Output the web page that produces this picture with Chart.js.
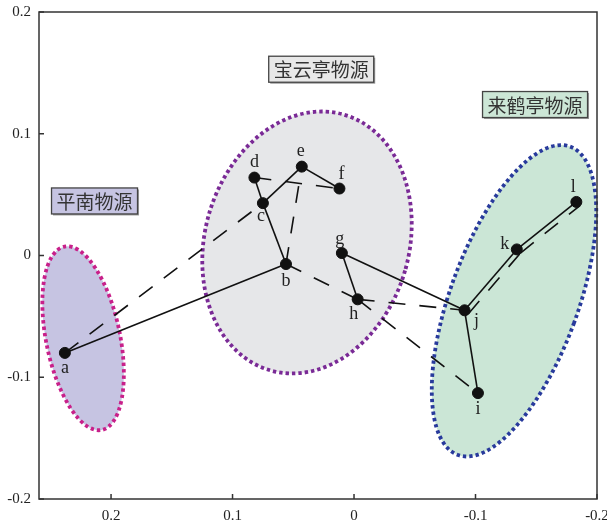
<!DOCTYPE html>
<html>
<head>
<meta charset="utf-8">
<script src="https://cdn.jsdelivr.net/npm/chart.js@4.4.0/dist/chart.umd.min.js"></script>
<style>
  html, body { margin: 0; padding: 0; background: #fff; }
</style>
</head>
<body>
<canvas id="myChart" width="607" height="527"></canvas>
<script>
// puntos de muestra
const nombres = ['a', 'b', 'c', 'd', 'e', 'f', 'g', 'h', 'i', 'j', 'k', 'l'];
const valoresX = [0.238, 0.056, 0.075, 0.082, 0.043, 0.012, 0.010, -0.003, -0.102, -0.091, -0.134, -0.183];
const valoresY = [-0.080, -0.007, 0.043, 0.064, 0.073, 0.055, 0.002, -0.036, -0.113, -0.045, 0.005, 0.044];

// uniones (linea continua) entre puntos
const unionesSolidas = [['a', 'b'], ['b', 'c'], ['c', 'd'], ['c', 'e'], ['e', 'f'], ['g', 'h'], ['g', 'j'], ['j', 'i'], ['j', 'k'], ['k', 'l']];
// uniones discontinuas: [x1, x2] y [y1, y2]
const discontX = [[0.238, 0.075], [0.056, 0.043], [0.082, 0.012], [0.056, -0.003], [-0.003, -0.091], [-0.003, -0.102], [-0.094, -0.137], [-0.137, -0.186]];
const discontY = [[-0.080, 0.043], [-0.007, 0.073], [0.064, 0.055], [-0.007, -0.036], [-0.036, -0.045], [-0.036, -0.113], [-0.048, 0.002], [0.002, 0.041]];

const ticksX = [0.2, 0.1, 0, -0.1, -0.2];
const ticksY = [0.2, 0.1, 0, -0.1, -0.2];
const grupos = ['平南物源', '宝云亭物源', '来鹤亭物源'];

// elipses de cada grupo (unidades de datos)
const elipses = [
  { cx: 0.223, cy: -0.068, rMayor: 0.0769, rMenor: 0.0304, giro: -11.5, fondo: '#c6c4e2', borde: '#c8208a' },
  { cx: 0.0387, cy: 0.0107, rMayor: 0.1094, rMenor: 0.0839, giro: 16, fondo: '#e6e7e9', borde: '#7a2a96' },
  { cx: -0.1317, cy: -0.0372, rMayor: 0.1349, rMenor: 0.0526, giro: 20, fondo: '#cbe6d6', borde: '#283a9c' }
];
const cajas = [
  { x: 0.2136, y: 0.0448, fondo: '#c6c4e2' },
  { x: 0.027, y: 0.153, fondo: '#e8e8e8' },
  { x: -0.149, y: 0.124, fondo: '#cce6d6' }
];
const posEtiquetas = {
  a: [0, 15], b: [0, 17], c: [-2, 13], d: [0, -15], e: [-1, -15], f: [2, -14],
  g: [-2, -14], h: [-4, 15], i: [0, 16], j: [12, 11], k: [-12, -5], l: [-3, -15]
};

const puntos = nombres.map((n, i) => ({ x: valoresX[i], y: valoresY[i] }));

const datasets = [{
  label: 'puntos',
  data: puntos,
  backgroundColor: '#111',
  borderColor: '#111',
  pointRadius: 5.5,
  showLine: false,
  order: 0
}];

unionesSolidas.forEach(u => {
  const p1 = nombres.indexOf(u[0]);
  const p2 = nombres.indexOf(u[1]);
  datasets.push({
    data: [puntos[p1], puntos[p2]],
    showLine: true,
    borderColor: '#111',
    borderWidth: 1.6,
    pointRadius: 0,
    order: 1
  });
});

discontX.forEach((xs, i) => {
  datasets.push({
    data: [{ x: xs[0], y: discontY[i][0] }, { x: xs[1], y: discontY[i][1] }],
    showLine: true,
    borderColor: '#111',
    borderWidth: 1.6,
    borderDash: [17, 14],
    pointRadius: 0,
    order: 2
  });
});

const fondoPlugin = {
  id: 'fondo',
  beforeDatasetsDraw(chart) {
    const ctx = chart.ctx;
    const sx = chart.scales.x, sy = chart.scales.y;
    const ux = Math.abs(sx.getPixelForValue(1) - sx.getPixelForValue(0));
    const uy = Math.abs(sy.getPixelForValue(1) - sy.getPixelForValue(0));
    const u = (ux + uy) / 2;
    elipses.forEach(e => {
      ctx.save();
      ctx.beginPath();
      ctx.ellipse(sx.getPixelForValue(e.cx), sy.getPixelForValue(e.cy), e.rMenor * u, e.rMayor * u, e.giro * Math.PI / 180, 0, Math.PI * 2);
      ctx.fillStyle = e.fondo;
      ctx.fill();
      ctx.setLineDash([3.4, 3]);
      ctx.lineWidth = 3.8;
      ctx.strokeStyle = e.borde;
      ctx.stroke();
      ctx.restore();
    });
  },
  afterDatasetsDraw(chart) {
    const ctx = chart.ctx;
    const sx = chart.scales.x, sy = chart.scales.y;
    const area = chart.chartArea;

    // etiquetas de los puntos
    const meta = chart.getDatasetMeta(0);
    ctx.save();
    ctx.font = '18px "Liberation Serif"';
    ctx.fillStyle = '#222';
    ctx.textAlign = 'center';
    ctx.textBaseline = 'middle';
    meta.data.forEach((el, i) => {
      const off = posEtiquetas[nombres[i]];
      ctx.fillText(nombres[i], el.x + off[0], el.y + off[1]);
    });
    ctx.restore();

    // cajas de los grupos
    ctx.save();
    ctx.font = '19px "Noto Sans CJK SC"';
    ctx.textAlign = 'center';
    ctx.textBaseline = 'middle';
    cajas.forEach((c, i) => {
      const px = sx.getPixelForValue(c.x), py = sy.getPixelForValue(c.y);
      const w = ctx.measureText(grupos[i]).width + 10;
      const h = 26;
      ctx.fillStyle = '#9a9a9a';
      ctx.fillRect(px - w / 2 + 1.5, py - h / 2 + 1.5, w, h);
      ctx.fillStyle = c.fondo;
      ctx.fillRect(px - w / 2, py - h / 2, w, h);
      ctx.strokeStyle = '#444';
      ctx.lineWidth = 1.3;
      ctx.strokeRect(px - w / 2, py - h / 2, w, h);
      ctx.fillStyle = '#333';
      ctx.fillText(grupos[i], px, py + 1);
    });
    ctx.restore();

    // marco y marcas hacia dentro
    ctx.save();
    ctx.strokeStyle = '#333';
    ctx.lineWidth = 1.5;
    ctx.strokeRect(area.left, area.top, area.right - area.left, area.bottom - area.top);
    ctx.beginPath();
    ticksX.forEach(v => {
      const px = sx.getPixelForValue(v);
      ctx.moveTo(px, area.bottom);
      ctx.lineTo(px, area.bottom - 5);
    });
    ticksY.forEach(v => {
      const py = sy.getPixelForValue(v);
      ctx.moveTo(area.left, py);
      ctx.lineTo(area.left + 5, py);
    });
    ctx.stroke();
    ctx.restore();
  }
};

const formato = v => Math.abs(v) < 1e-9 ? '0' : String(+v.toFixed(1));

const config = {
  type: 'scatter',
  data: { datasets },
  options: {
    responsive: false,
    animation: false,
    devicePixelRatio: 1,
    layout: { padding: { top: 12, right: 10, left: 0, bottom: 0 } },
    plugins: { legend: { display: false }, tooltip: { enabled: false } },
    scales: {
      x: {
        type: 'linear',
        reverse: true,
        min: -0.2,
        max: 0.2593,
        afterBuildTicks: s => { s.ticks = ticksX.map(v => ({ value: v })); },
        afterFit: s => { s.height = 28; s.paddingLeft = 0; s.paddingRight = 0; },
        grid: { drawOnChartArea: false, drawTicks: false },
        border: { display: false },
        ticks: { padding: 8, color: '#222', font: { family: 'Liberation Serif', size: 15 }, callback: formato, maxRotation: 0 }
      },
      y: {
        type: 'linear',
        min: -0.2,
        max: 0.2,
        afterBuildTicks: s => { s.ticks = ticksY.map(v => ({ value: v })); },
        afterFit: s => { s.width = 39; s.paddingTop = 0; s.paddingBottom = 0; },
        grid: { drawOnChartArea: false, drawTicks: false },
        border: { display: false },
        ticks: { padding: 8, color: '#222', font: { family: 'Liberation Serif', size: 15 }, callback: formato }
      }
    }
  },
  plugins: [fondoPlugin]
};

const grafico = new Chart(document.getElementById('myChart'), config);
</script>
</body>
</html>
